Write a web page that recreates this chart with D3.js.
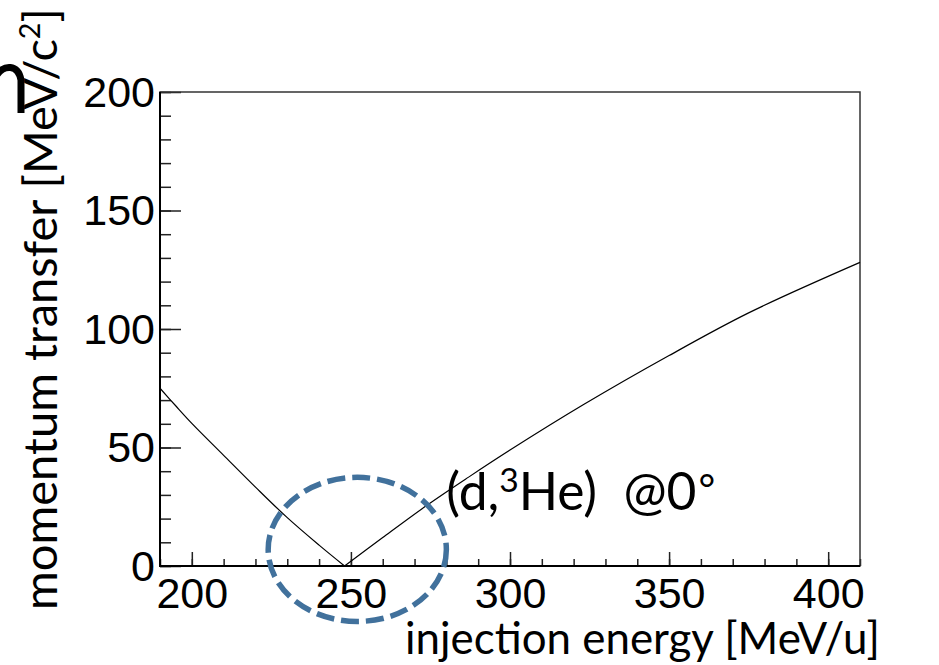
<!DOCTYPE html>
<html>
<head>
<meta charset="utf-8">
<script src="https://d3js.org/d3.v7.min.js"></script>
<style>
  html, body { margin: 0; padding: 0; background: #fff; }
  svg { display: block; }
</style>
</head>
<body>
<svg id="chart" width="939" height="665"></svg>
<script>
// curve: two branches meeting at the minimum (~248 MeV/u)
let leftEnergy = [190, 195, 200, 210, 220, 230, 240, 248];
let leftQ = [75, 67.5, 60.2, 46.7, 33.3, 20.4, 8.8, 0];
let rightEnergy = [248, 260, 274, 287, 300, 323, 350, 375, 410];
let rightQ = [0, 12, 25.7, 37.5, 48.9, 68.0, 88.8, 106.8, 128.1];

let xTicks = [200, 250, 300, 350, 400];
let yTicks = [0, 50, 100, 150, 200];

// the dashed ring around the minimum, in data units
let ringCenter = [252, 7];
let ringRadius = [28, 30.4];
let labelAt = [280, 23.6];

var drawChart = function() {
  let svg = d3.select("#chart");
  let margin = { top: 92, right: 79, bottom: 99, left: 160 };
  let plotWidth = 939 - margin.left - margin.right;
  let plotHeight = 665 - margin.top - margin.bottom;

  let x = d3.scaleLinear().domain([190, 410]).range([0, plotWidth]);
  let y = d3.scaleLinear().domain([0, 200]).range([plotHeight, 0]);

  let plot = svg.append("g")
    .attr("id", "plot")
    .attr("transform", "translate(" + margin.left + "," + margin.top + ")");

  // minor ticks first, then the labelled ones (ROOT style, pointing inside)
  let xMinor = d3.axisBottom(x).tickValues(d3.range(190, 411, 10)).tickSize(-7).tickFormat("");
  let yMinor = d3.axisLeft(y).tickValues(d3.range(0, 201, 10)).tickSize(-11).tickFormat("");
  let xAxis = d3.axisBottom(x).tickValues(xTicks).tickSize(-14).tickPadding(11).tickFormat(d3.format("d"));
  let yAxis = d3.axisLeft(y).tickValues(yTicks).tickSize(-21).tickPadding(5).tickFormat(d3.format("d"));

  plot.append("g").attr("transform", "translate(0," + plotHeight + ")").call(xMinor);
  plot.append("g").call(yMinor);
  let xGroup = plot.append("g").attr("id", "x-axis").attr("transform", "translate(0," + plotHeight + ")").call(xAxis);
  let yGroup = plot.append("g").attr("id", "y-axis").call(yAxis);

  plot.selectAll(".domain").remove();
  plot.selectAll(".tick line").attr("stroke", "#222").attr("stroke-width", 1.5);
  plot.selectAll(".tick text")
    .attr("font-family", "'Liberation Sans', Arial, sans-serif")
    .attr("font-size", 43)
    .attr("fill", "#000");
  yGroup.selectAll(".tick text").attr("dy", "0.33em");

  // frame
  plot.append("rect")
    .attr("width", plotWidth)
    .attr("height", plotHeight)
    .attr("fill", "none")
    .attr("stroke", "#333")
    .attr("stroke-width", 1.5);
  plot.append("path")
    .attr("d", "M0,0V" + plotHeight + "H" + plotWidth)
    .attr("fill", "none")
    .attr("stroke", "#000")
    .attr("stroke-width", 2);

  let line = d3.line()
    .x(function(d) { return x(d[0]); })
    .y(function(d) { return y(d[1]); })
    .curve(d3.curveCatmullRom.alpha(0.5));

  plot.append("path")
    .datum(d3.zip(leftEnergy, leftQ))
    .attr("d", line)
    .attr("fill", "none")
    .attr("stroke", "#000")
    .attr("stroke-width", 1.2);
  plot.append("path")
    .datum(d3.zip(rightEnergy, rightQ))
    .attr("d", line)
    .attr("fill", "none")
    .attr("stroke", "#000")
    .attr("stroke-width", 1.2);

  // dashed ellipse round the minimum
  plot.append("ellipse")
    .attr("cx", x(ringCenter[0]))
    .attr("cy", y(ringCenter[1]))
    .attr("rx", x(ringCenter[0] + ringRadius[0]) - x(ringCenter[0]))
    .attr("ry", y(0) - y(ringRadius[1]))
    .attr("fill", "none")
    .attr("stroke", "#41719c")
    .attr("stroke-width", 5.5)
    .attr("stroke-dasharray", "18 7");

  let titleFont = "Lato, 'Open Sans', sans-serif";

  let label = plot.append("text")
    .attr("x", x(labelAt[0]))
    .attr("y", y(labelAt[1]))
    .attr("font-family", titleFont)
    .attr("font-size", 46)
    .style("white-space", "pre");
  label.append("tspan").text("(d,");
  label.append("tspan").attr("font-size", 30).attr("dy", -16).text("3");
  label.append("tspan").attr("dy", 16).text("He)  @0");
  label.append("tspan").attr("font-size", 36).attr("dy", -6).attr("dx", 2).text("°");
  fitText(label, 267);

  // axis titles
  let xTitle = svg.append("text")
    .attr("x", 405)
    .attr("y", 654)
    .attr("font-family", titleFont)
    .attr("font-size", 46)
    .text("injection energy [MeV/u]");
  fitText(xTitle, 475);

  let yTitle = svg.append("text")
    .attr("transform", "translate(57,610) rotate(-90)")
    .attr("font-family", titleFont)
    .attr("font-size", 46);
  yTitle.append("tspan").text("momentum transfer [MeV/c");
  yTitle.append("tspan").attr("font-size", 28).attr("dy", -17).text("2");
  yTitle.append("tspan").attr("dy", 17).text("]");
  fitText(yTitle, 602);

  // leftover stroke of the original label peeking out at the top left
  svg.append("path")
    .attr("d", "M-4,76 C4,64 18,64 21,80 L21,113")
    .attr("fill", "none")
    .attr("stroke", "#000")
    .attr("stroke-width", 7);
}

// scale a text's font so its width matches what the picture shows
var fitText = function(sel, target) {
  let w = sel.node().getComputedTextLength();
  let k = target / w;
  sel.attr("font-size", 46 * k);
  sel.selectAll("tspan").each(function() {
    let t = d3.select(this);
    let fs = t.attr("font-size");
    if (fs) t.attr("font-size", fs * k);
    if (t.attr("dy")) t.attr("dy", t.attr("dy") * k);
  });
}

drawChart();
</script>
</body>
</html>
